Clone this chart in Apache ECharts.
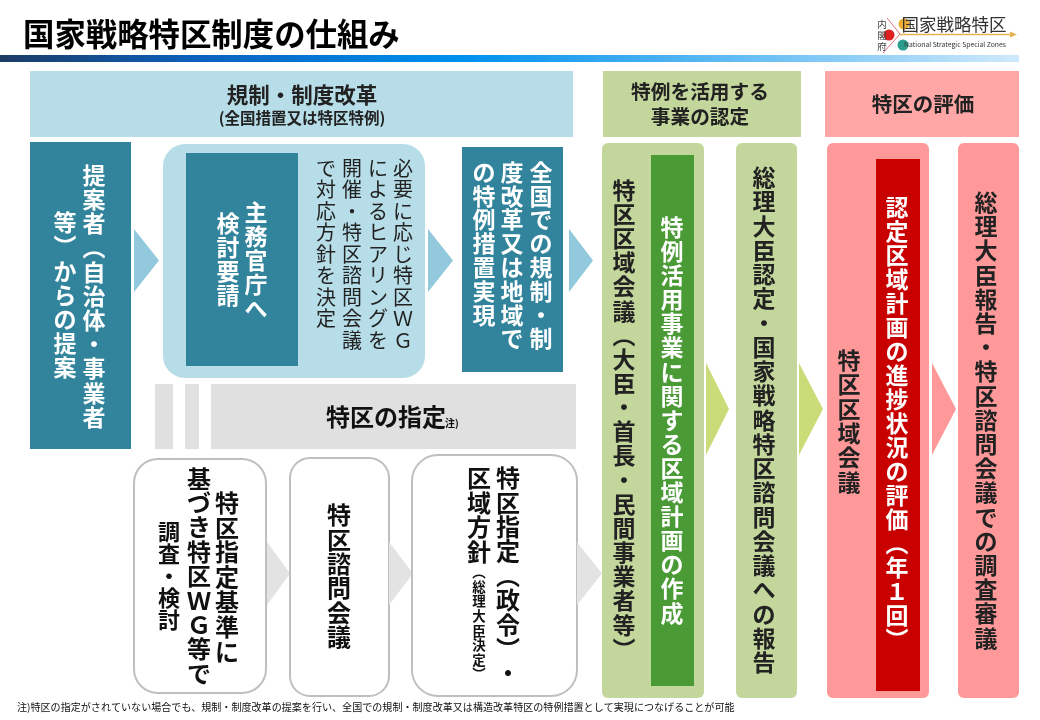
<!DOCTYPE html>
<html lang="ja">
<head>
<meta charset="utf-8">
<title>国家戦略特区制度の仕組み</title>
<script src="https://cdn.jsdelivr.net/npm/echarts@6/dist/echarts.min.js"></script>
<style>
	html, body { margin: 0; padding: 0; background: #fff; }
	#chart { width: 1040px; height: 720px; }
</style>
</head>
<body>
<div id="chart"></div>
<script>
"use strict";

var TITLE_TEXT = '国家戦略特区制度の仕組み';
var LOGO_NAME = '国家戦略特区';
var LOGO_SUB = 'National Strategic Special Zones';
var LOGO_OFFICE = '内閣府';
var HEAD_REFORM = ['規制・制度改革', '(全国措置又は特区特例)'];
var HEAD_APPROVAL = ['特例を活用する', '事業の認定'];
var HEAD_EVALUATION = '特区の評価';
var PROPOSER_COLUMNS = ['提案者（自治体・事業者', '等）からの提案'];
var MINISTRY_COLUMNS = ['主務官庁へ', '検討要請'];
var HEARING_COLUMNS = ['必要に応じ特区ＷＧ', 'によるヒアリングを', '開催・特区諮問会議', 'で対応方針を決定'];
var REALIZE_COLUMNS = ['全国での規制・制', '度改革又は地域で', 'の特例措置実現'];
var DESIGNATION_TEXT = ['特区の指定', '注)'];
var SURVEY_COLUMNS = ['特区指定基準に', '基づき特区ＷＧ等で', '調査・検討'];
var COUNCIL_TEXT = '特区諮問会議';
var DECREE_COLUMNS = ['特区指定（政令）・', '区域方針', '（総理大臣決定）'];
var AREA_MEETING_TEXT = '特区区域会議（大臣・首長・民間事業者等）';
var AREA_PLAN_TEXT = '特例活用事業に関する区域計画の作成';
var PM_APPROVAL_TEXT = '総理大臣認定・国家戦略特区諮問会議への報告';
var EVAL_MEETING_TEXT = '特区区域会議';
var EVAL_PROGRESS_TEXT = '認定区域計画の進捗状況の評価（年１回）';
var PM_REPORT_TEXT = '総理大臣報告・特区諮問会議での調査審議';
var FOOTNOTE_TEXT = '注)特区の指定がされていない場合でも、規制・制度改革の提案を行い、全国での規制・制度改革又は構造改革特区の特例措置として実現につなげることが可能';

var FONT = '"Noto Sans CJK JP", "Noto Sans", sans-serif';
var TEAL = '#31849b';
var LIGHT_BLUE = '#b7dde8';
var GREEN = '#c3d69b';
var PINK = '#ff9999';
var DARK = '#222';

var elements = [];

function box(x, y, w, h, fill, r, stroke) {
	elements.push({
		type: 'rect',
		shape: { x: x, y: y, width: w, height: h, r: r || 0 },
		style: { fill: fill, stroke: stroke || null, lineWidth: stroke ? 2 : 0 }
	});
}

function arrow(x, tipX, top, bottom, fill) {
	elements.push({
		type: 'polygon',
		shape: { points: [[x, top], [tipX, (top + bottom) / 2], [x, bottom]] },
		style: { fill: fill }
	});
}

function label(text, x, y, size, color, weight, align) {
	elements.push({
		type: 'text',
		style: {
			text: text, x: x, y: y,
			fontFamily: FONT, fontSize: size, fontWeight: weight || 'bold',
			fill: color, textAlign: align || 'center', textVerticalAlign: 'middle'
		}
	});
}

// y is the middle of the first glyph
function column(text, x, y, step, size, color, weight) {
	var chars = text.replace(/（/g, '\uFE35').replace(/）/g, '\uFE36').split('');
	elements.push({
		type: 'text',
		style: {
			text: chars.join('\n'), x: x, y: y - step / 2,
			fontFamily: FONT, fontSize: size, fontWeight: weight || 'bold',
			lineHeight: step, fill: color, textAlign: 'center', textVerticalAlign: 'top'
		}
	});
}

// column centred on cy, like the text of the middle-anchored boxes
function centredColumn(text, x, cy, step, size, color, weight) {
	column(text, x, cy - step * (text.length - 1) / 2, step, size, color, weight);
}

function drawHeader() {
	label(TITLE_TEXT, 23, 34, 31.4, '#000', 'bold', 'left');
	box(0, 55, 1019, 7, {
		type: 'linear', x: 0, y: 0, x2: 1, y2: 0,
		colorStops: [
			{ offset: 0, color: '#1d3c66' },
			{ offset: 0.2, color: '#0a62c0' },
			{ offset: 0.45, color: '#0090ee' },
			{ offset: 0.75, color: '#6cc0f5' },
			{ offset: 1, color: '#cfe9fb' }
		]
	});

	// logo
	elements.push({ type: 'polyline', shape: { points: [[887, 18], [900, 34], [883, 53]] }, style: { fill: null, stroke: '#e0707a', lineWidth: 1 } });
	elements.push({ type: 'circle', shape: { cx: 904, cy: 24, r: 5.5 }, style: { fill: '#f0ac30' } });
	elements.push({ type: 'circle', shape: { cx: 889, cy: 35, r: 5.5 }, style: { fill: '#e02020' } });
	elements.push({ type: 'circle', shape: { cx: 903, cy: 45, r: 5.5 }, style: { fill: '#2a9d8f' } });
	elements.push({ type: 'line', shape: { x1: 900, y1: 34.5, x2: 1013, y2: 34.5 }, style: { stroke: '#e8b44f', lineWidth: 1.5 } });
	arrow(1010, 1017, 31.5, 37.5, '#e8b44f');
	label(LOGO_NAME, 954, 24, 17.5, '#333', 'normal');
	label(LOGO_SUB, 955, 44, 6.8, '#333', 'normal');
	column(LOGO_OFFICE, 882, 24, 11, 9.5, '#444', 'normal');

	box(30, 71, 543, 66, LIGHT_BLUE);
	box(603, 71, 198, 66, GREEN);
	box(825, 71, 194, 66, '#ffa7a7');
	label(HEAD_REFORM[0], 302, 95, 21.5, DARK);
	label(HEAD_REFORM[1], 302, 118, 15.5, DARK);
	label(HEAD_APPROVAL[0], 700, 92, 19.7, DARK);
	label(HEAD_APPROVAL[1], 700, 117, 19.7, DARK);
	label(HEAD_EVALUATION, 923, 104, 20.5, DARK);
}

function drawReform() {
	box(30, 142, 101, 307, TEAL);
	centredColumn(PROPOSER_COLUMNS[0], 94, 296, 24.2, 23, '#fff');
	centredColumn(PROPOSER_COLUMNS[1], 65, 295, 24.2, 23, '#fff');
	arrow(134, 159, 229, 292, '#92c9dc');

	box(163, 144, 262, 234, LIGHT_BLUE, 22);
	box(186, 153, 112, 213, TEAL);
	centredColumn(MINISTRY_COLUMNS[0], 256, 260, 24, 23, '#fff');
	centredColumn(MINISTRY_COLUMNS[1], 228, 259, 24, 23, '#fff');
	var hearingX = [403, 378, 352, 326];
	for (var index = 0; index < HEARING_COLUMNS.length; index++) {
		column(HEARING_COLUMNS[index], hearingX[index], 168, 21.5, 20, DARK, 'normal');
	}
	arrow(428, 453, 229, 292, '#92c9dc');

	box(462, 147, 101, 225, TEAL);
	column(REALIZE_COLUMNS[0], 541, 172, 23.8, 23, '#fff');
	column(REALIZE_COLUMNS[1], 512, 172, 23.8, 23, '#fff');
	column(REALIZE_COLUMNS[2], 484, 172, 23.8, 23, '#fff');
	arrow(569, 593, 229, 292, '#92c9dc');
}

function drawDesignation() {
	box(155, 384, 18, 65, '#e0e0e0');
	box(185, 384, 14, 65, '#e0e0e0');
	box(211, 384, 365, 65, '#e0e0e0');
	label(DESIGNATION_TEXT[0], 386, 417, 24, '#111');
	label(DESIGNATION_TEXT[1], 452, 423, 10, '#111');

	box(134, 459, 132, 234, '#fff', 24, '#bfbfbf');
	centredColumn(SURVEY_COLUMNS[0], 227, 577, 24.8, 24, '#111');
	centredColumn(SURVEY_COLUMNS[1], 199, 576, 24.4, 24, '#111');
	centredColumn(SURVEY_COLUMNS[2], 169, 576, 22, 22, '#111');
	arrow(267, 290, 542, 605, '#e3e3e3');

	box(290, 458, 99, 238, '#fff', 20, '#bfbfbf');
	centredColumn(COUNCIL_TEXT, 339, 576, 24.4, 24, '#111');
	arrow(389, 413, 542, 605, '#e3e3e3');

	box(412, 455, 165, 241, '#fff', 26, '#bfbfbf');
	column(DECREE_COLUMNS[0], 508, 478, 24.4, 24, '#111');
	column(DECREE_COLUMNS[1], 479, 478, 24.6, 24, '#111');
	column(DECREE_COLUMNS[2], 479, 572, 14.6, 13.5, '#111');
	arrow(577, 602, 542, 605, '#e3e3e3');
}

function drawApprovalAndEvaluation() {
	box(602, 143, 102, 555, GREEN, 6);
	centredColumn(AREA_MEETING_TEXT, 624, 419.5, 24.15, 23, DARK);
	box(651, 155, 43, 531, '#4a9a35');
	centredColumn(AREA_PLAN_TEXT, 672, 420, 24.1, 23, '#fff');
	arrow(706, 729, 363, 455, '#c9dc78');

	box(736, 143, 61, 555, GREEN, 6);
	centredColumn(PM_APPROVAL_TEXT, 764, 420, 24.25, 23, DARK);
	arrow(799, 823, 363, 455, '#c9dc78');

	box(827, 143, 102, 555, PINK, 6);
	centredColumn(EVAL_MEETING_TEXT, 849, 421, 24.4, 23, DARK);
	box(876, 159, 44, 532, '#c80000');
	centredColumn(EVAL_PROGRESS_TEXT, 897, 423, 24, 23, '#fff');
	arrow(932, 956, 363, 455, PINK);

	box(958, 143, 61, 555, PINK, 6);
	centredColumn(PM_REPORT_TEXT, 986, 420, 24.2, 23, DARK);
}

drawHeader();
drawReform();
drawDesignation();
drawApprovalAndEvaluation();
label(FOOTNOTE_TEXT, 17, 707, 10.07, '#111', 'normal', 'left');

var chart = echarts.init(document.getElementById('chart'), null, { renderer: 'canvas' });
chart.setOption({
	animation: false,
	backgroundColor: '#fff',
	graphic: { elements: elements }
});
</script>
</body>
</html>
